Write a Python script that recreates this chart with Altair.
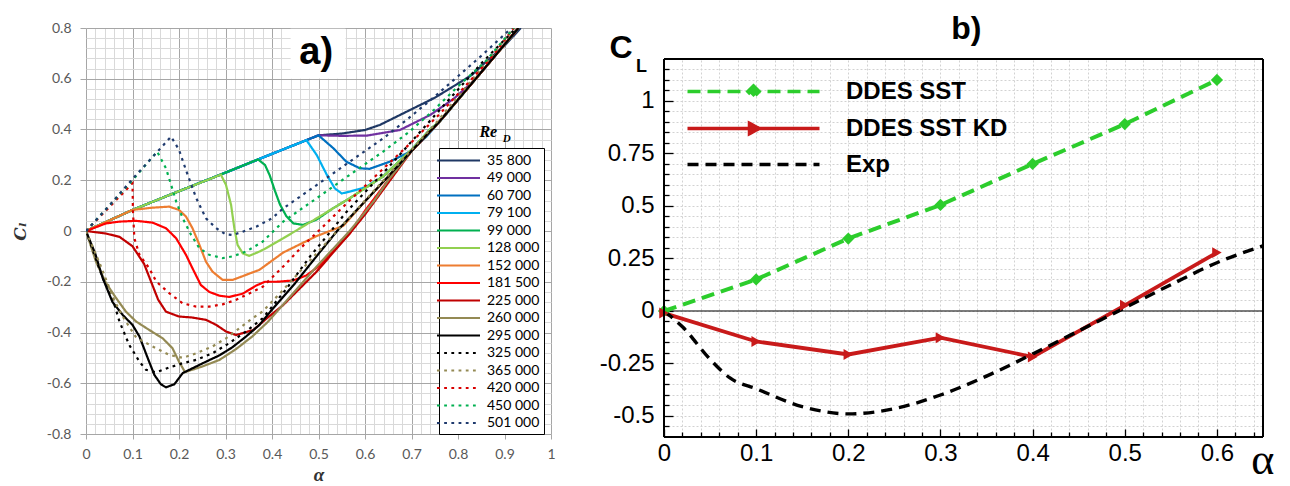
import altair as alt
import pandas as pd

# ====================== panel a) : c_l vs alpha for several Re_D ======================
re_names = ["35 800", "49 000", "60 700", "79 100", "99 000", "128 000", "152 000",
            "181 500", "225 000", "260 000", "295 000", "325 000", "365 000",
            "420 000", "450 000", "501 000"]
re_colors = ["#1f3864", "#7030a0", "#0070c0", "#00b0f0", "#00b050", "#92d050",
             "#ed7d31", "#ff0000", "#c00000", "#948a54", "#000000", "#000000",
             "#948a54", "#d80000", "#00b050", "#1f3a6e"]
re_dashes = [[1, 0]] * 11 + [[2.8, 4.4]] * 5
re_widths = [2.2] * 11 + [2.9] * 5

alpha_35800 = [0, 0.1, 0.2, 0.3, 0.4, 0.5, 0.55, 0.6, 0.632, 0.697, 0.75, 0.783, 0.83, 0.862, 0.9, 0.935]
cl_35800 = [0, 0.083, 0.157, 0.23, 0.304, 0.377, 0.384, 0.398, 0.418, 0.477, 0.525, 0.562, 0.615, 0.67, 0.73, 0.8]

alpha_49000 = [0, 0.1, 0.2, 0.3, 0.4, 0.5, 0.55, 0.604, 0.675, 0.74, 0.79, 0.836, 0.93]
cl_49000 = [0, 0.083, 0.157, 0.23, 0.304, 0.377, 0.375, 0.376, 0.398, 0.457, 0.52, 0.595, 0.8]

alpha_60700 = [0, 0.1, 0.2, 0.3, 0.4, 0.5, 0.532, 0.56, 0.589, 0.61, 0.653, 0.697, 0.732, 0.77, 0.8, 0.833, 0.93]
cl_60700 = [0, 0.083, 0.157, 0.23, 0.304, 0.377, 0.326, 0.273, 0.247, 0.245, 0.273, 0.313, 0.372, 0.45, 0.516, 0.589, 0.8]

alpha_79100 = [0, 0.1, 0.2, 0.3, 0.4, 0.474, 0.496, 0.518, 0.535, 0.55, 0.567, 0.6, 0.639, 0.7, 0.74, 0.76, 0.833, 0.93]
cl_79100 = [0, 0.083, 0.157, 0.23, 0.304, 0.358, 0.3, 0.221, 0.168, 0.148, 0.155, 0.172, 0.215, 0.32, 0.4, 0.431, 0.589, 0.8]

alpha_99000 = [0, 0.1, 0.2, 0.3, 0.37, 0.385, 0.395, 0.406, 0.417, 0.431, 0.446, 0.467, 0.496, 0.53, 0.567, 0.639, 0.7, 0.74, 0.76, 0.833, 0.93]
cl_99000 = [0, 0.083, 0.157, 0.23, 0.282, 0.26, 0.22, 0.16, 0.105, 0.058, 0.03, 0.024, 0.045, 0.088, 0.129, 0.215, 0.32, 0.4, 0.431, 0.589, 0.8]

alpha_128000 = [0, 0.1, 0.2, 0.29, 0.301, 0.312, 0.319, 0.326, 0.337, 0.351, 0.373, 0.387, 0.424, 0.496, 0.567, 0.639, 0.7, 0.74, 0.76, 0.833, 0.93]
cl_128000 = [0, 0.083, 0.157, 0.222, 0.182, 0.103, 0.011, -0.055, -0.088, -0.098, -0.081, -0.068, -0.029, 0.05, 0.129, 0.215, 0.32, 0.4, 0.431, 0.589, 0.8]

alpha_152000 = [0, 0.1, 0.143, 0.179, 0.2, 0.215, 0.229, 0.244, 0.258, 0.272, 0.294, 0.315, 0.344, 0.373, 0.424, 0.496, 0.553, 0.6, 0.65, 0.7, 0.76, 0.833, 0.93]
cl_152000 = [0, 0.083, 0.092, 0.096, 0.083, 0.057, 0.011, -0.055, -0.121, -0.16, -0.193, -0.193, -0.173, -0.153, -0.085, -0.02, 0.02, 0.117, 0.215, 0.315, 0.431, 0.589, 0.8]

alpha_181500 = [0, 0.043, 0.072, 0.108, 0.143, 0.172, 0.194, 0.215, 0.229, 0.247, 0.265, 0.287, 0.308, 0.337, 0.366, 0.385, 0.41, 0.446, 0.474, 0.5, 0.538, 0.567, 0.6, 0.65, 0.7, 0.76, 0.833, 0.93]
cl_181500 = [0, 0.03, 0.037, 0.04, 0.033, 0.011, -0.029, -0.094, -0.147, -0.213, -0.24, -0.255, -0.26, -0.247, -0.215, -0.2, -0.2, -0.195, -0.175, -0.14, -0.068, -0.01, 0.08, 0.2, 0.315, 0.431, 0.589, 0.8]

alpha_225000 = [0, 0.043, 0.072, 0.1, 0.125, 0.14, 0.155, 0.172, 0.2, 0.229, 0.258, 0.28, 0.301, 0.323, 0.36, 0.389, 0.424, 0.496, 0.567, 0.6, 0.65, 0.7, 0.76, 0.833, 0.93]
cl_225000 = [0, -0.01, -0.023, -0.06, -0.13, -0.2, -0.27, -0.318, -0.337, -0.341, -0.35, -0.37, -0.396, -0.41, -0.39, -0.344, -0.292, -0.16, -0.01, 0.065, 0.19, 0.315, 0.431, 0.589, 0.8]

alpha_260000 = [0, 0.0215, 0.043, 0.065, 0.086, 0.108, 0.136, 0.165, 0.186, 0.2, 0.213, 0.25, 0.287, 0.323, 0.358, 0.39, 0.424, 0.496, 0.567, 0.62, 0.65, 0.7, 0.76, 0.833, 0.93]
cl_260000 = [0, -0.121, -0.205, -0.265, -0.318, -0.357, -0.39, -0.423, -0.462, -0.515, -0.556, -0.534, -0.508, -0.465, -0.415, -0.36, -0.29, -0.14, 0.0, 0.12, 0.2, 0.315, 0.431, 0.589, 0.8]

alpha_295000 = [0, 0.02, 0.036, 0.057, 0.079, 0.1, 0.115, 0.133, 0.147, 0.161, 0.172, 0.19, 0.208, 0.229, 0.258, 0.287, 0.315, 0.344, 0.373, 0.4, 0.45, 0.5, 0.54, 0.6, 0.65, 0.7, 0.76, 0.833, 0.93]
cl_295000 = [0, -0.09, -0.186, -0.28, -0.331, -0.37, -0.416, -0.502, -0.567, -0.604, -0.616, -0.604, -0.56, -0.541, -0.515, -0.49, -0.458, -0.416, -0.37, -0.31, -0.205, -0.09, 0.0, 0.117, 0.215, 0.315, 0.431, 0.589, 0.8]

alpha_325000 = [0, 0.036, 0.057, 0.072, 0.093, 0.115, 0.129, 0.151, 0.179, 0.208, 0.237, 0.272, 0.308, 0.344, 0.38, 0.43, 0.482, 0.518, 0.561, 0.65, 0.75, 0.85, 0.925]
cl_325000 = [0, -0.186, -0.265, -0.357, -0.449, -0.515, -0.547, -0.557, -0.538, -0.521, -0.508, -0.482, -0.442, -0.396, -0.344, -0.23, -0.1, -0.02, 0.077, 0.25, 0.455, 0.66, 0.8]

alpha_365000 = [0, 0.03, 0.06, 0.08, 0.108, 0.143, 0.179, 0.208, 0.237, 0.272, 0.301, 0.33, 0.358, 0.38, 0.42, 0.46, 0.5, 0.55, 0.6, 0.65, 0.7, 0.75, 0.8, 0.85, 0.92]
cl_365000 = [0, -0.13, -0.27, -0.34, -0.42, -0.455, -0.488, -0.5, -0.482, -0.455, -0.423, -0.383, -0.344, -0.317, -0.24, -0.16, -0.08, 0.02, 0.12, 0.22, 0.32, 0.42, 0.53, 0.64, 0.8]

alpha_420000 = [0, 0.05, 0.1, 0.101, 0.104, 0.115, 0.136, 0.151, 0.179, 0.208, 0.237, 0.265, 0.294, 0.323, 0.358, 0.38, 0.424, 0.46, 0.5, 0.567, 0.639, 0.7, 0.76, 0.82, 0.87, 0.92]
cl_420000 = [0, 0.094, 0.188, 0.077, -0.029, -0.094, -0.147, -0.199, -0.245, -0.285, -0.298, -0.298, -0.289, -0.271, -0.24, -0.22, -0.14, -0.07, 0.0, 0.12, 0.245, 0.35, 0.46, 0.58, 0.68, 0.8]

alpha_450000 = [0, 0.1, 0.153, 0.172, 0.183, 0.194, 0.208, 0.226, 0.244, 0.265, 0.294, 0.315, 0.344, 0.38, 0.424, 0.496, 0.567, 0.639, 0.696, 0.75, 0.8, 0.86, 0.92]
cl_450000 = [0, 0.2, 0.313, 0.247, 0.182, 0.116, 0.05, -0.015, -0.068, -0.094, -0.107, -0.1, -0.081, -0.042, 0.037, 0.129, 0.221, 0.313, 0.392, 0.48, 0.57, 0.67, 0.8]

alpha_501000 = [0, 0.05, 0.1, 0.15, 0.183, 0.2, 0.215, 0.237, 0.258, 0.28, 0.3, 0.315, 0.337, 0.366, 0.4, 0.424, 0.496, 0.567, 0.639, 0.689, 0.75, 0.8, 0.85, 0.915]
cl_501000 = [0, 0.1, 0.205, 0.305, 0.372, 0.32, 0.24, 0.13, 0.05, 0.011, -0.013, -0.016, -0.003, 0.017, 0.05, 0.089, 0.181, 0.273, 0.365, 0.437, 0.53, 0.61, 0.69, 0.8]

series_a = [
    ("35 800", alpha_35800, cl_35800), ("49 000", alpha_49000, cl_49000),
    ("60 700", alpha_60700, cl_60700), ("79 100", alpha_79100, cl_79100),
    ("99 000", alpha_99000, cl_99000), ("128 000", alpha_128000, cl_128000),
    ("152 000", alpha_152000, cl_152000), ("181 500", alpha_181500, cl_181500),
    ("225 000", alpha_225000, cl_225000), ("260 000", alpha_260000, cl_260000),
    ("295 000", alpha_295000, cl_295000), ("325 000", alpha_325000, cl_325000),
    ("365 000", alpha_365000, cl_365000), ("420 000", alpha_420000, cl_420000),
    ("450 000", alpha_450000, cl_450000), ("501 000", alpha_501000, cl_501000),
]

# axis tick values (grid) for panel a
x_ticks_a = [round(i * 0.02, 2) for i in range(51)]
y_ticks_a = [round(-0.8 + i * 0.04, 2) for i in range(41)]

# ====================== panel b) : C_L vs alpha ======================
b_names = ["DDES SST", "DDES SST KD", "Exp"]
b_colors = ["#2ccd2c", "#c81a1a", "#000000"]
b_dashes = [[13, 7], [1, 0], [11, 7]]
b_shapes = ["M-5,0H5M0,-0.42L0.42,0L0,0.42L-0.42,0Z",
            "M-5,0H5M-0.3,-0.38L0.42,0L-0.3,0.38Z",
            "M-5,0H5"]

b_alpha = [0, 0.1, 0.2, 0.3, 0.4, 0.5, 0.6]
b_sst = [0, 0.15, 0.345, 0.505, 0.70, 0.89, 1.10]
b_kd = [-0.01, -0.145, -0.207, -0.127, -0.219, 0.027, 0.278]
exp_alpha = [0, 0.02, 0.05, 0.072, 0.1, 0.15, 0.2, 0.25, 0.3, 0.35, 0.4, 0.45, 0.5, 0.55, 0.6, 0.65]
exp_cl = [0, -0.075, -0.23, -0.32, -0.37, -0.455, -0.49, -0.465, -0.4, -0.31, -0.205, -0.095, 0.015, 0.125, 0.23, 0.31]

x_ticks_b = [round(i * 0.02, 2) for i in range(33)]
y_ticks_b = [round(-0.6 + i * 0.05, 2) for i in range(37)]
x_major_b = [0, 0.1, 0.2, 0.3, 0.4, 0.5, 0.6]
y_major_b = [-0.5, -0.25, 0, 0.25, 0.5, 0.75, 1]
x_minor_b = [v for v in x_ticks_b if v not in x_major_b]
y_minor_b = [v for v in y_ticks_b if v not in y_major_b and -0.6 < v < 1.2]

# ---------------------------------------------------------------------------
rows = []
for name, a, c in series_a:
    for i, (x, y) in enumerate(zip(a, c)):
        rows.append({"re": name, "alpha": x, "cl": y, "idx": i})
df_a = pd.DataFrame(rows)

df_sst = pd.DataFrame({"alpha": b_alpha, "cl": b_sst})
df_kd = pd.DataFrame({"alpha": b_alpha, "cl": b_kd})
df_exp = pd.DataFrame({"alpha": exp_alpha, "cl": exp_cl})
df_leg = pd.DataFrame({"model": b_names})
one = pd.DataFrame({"k": [0]})

MINUS = "\u2212"


def major(step):
    return f"abs(datum.value / {step} - round(datum.value / {step})) < 1e-6"


def lab(step, fmt):
    return f"{major(step)} ? replace(format(datum.value, '{fmt}'), '{MINUS}', '-') : ''"


# ---------------------------- panel a -----------------------------------
sx_a = alt.Scale(domain=[0, 1], nice=False, zero=False)
sy_a = alt.Scale(domain=[-0.8, 0.8], nice=False, zero=False)

ax_x_a = alt.Axis(
    orient="bottom", values=x_ticks_a, grid=True,
    gridColor={"condition": {"test": major(0.1), "value": "#a6a6a6"}, "value": "#d9d9d9"},
    gridWidth=1, domain=False, ticks=True, tickSize=5, tickColor="#a6a6a6",
    tickOpacity={"condition": {"test": major(0.1), "value": 1}, "value": 0},
    labelExpr=lab(0.1, ".1~f"), labelFont="Lato", labelFontSize=14, labelColor="#595959",
    labelPadding=8, labelFlush=False, labelOverlap=False,
    title="α", titleFont="Liberation Serif", titleFontStyle="italic", titleFontWeight="bold",
    titleFontSize=19, titleColor="#333333", titlePadding=4,
)
ax_y_a = alt.Axis(
    orient="left", values=y_ticks_a, grid=True,
    gridColor={"condition": {"test": major(0.2), "value": "#a6a6a6"}, "value": "#d9d9d9"},
    gridWidth=1, domain=False, ticks=True, tickSize=6, tickColor="#a6a6a6",
    tickOpacity={"condition": {"test": major(0.2), "value": 1}, "value": 0},
    labelExpr=lab(0.2, ".1~f"), labelFont="Lato", labelFontSize=14, labelColor="#595959",
    labelPadding=9, labelFlush=False, labelOverlap=False,
    title="Cₗ", titleFont="DejaVu Serif", titleFontStyle="italic", titleFontWeight="bold",
    titleFontSize=17, titleColor="#333333", titlePadding=17,
)

leg_a = alt.Legend(
    title=None, orient="none", legendX=353, legendY=120,
    symbolType="M-3,0H3", symbolSize=206, symbolStrokeWidth=2.6,
    symbolOffset=7, labelOffset=20, labelFont="Lato", labelFontSize=14,
    labelFontWeight="normal", labelColor="black", rowPadding=1.5, padding=4,
    strokeColor="black", fillColor="white",
)

lines_a = alt.Chart(df_a).mark_line(clip=True).encode(
    x=alt.X("alpha:Q", scale=sx_a, axis=ax_x_a),
    y=alt.Y("cl:Q", scale=sy_a, axis=ax_y_a),
    color=alt.Color("re:N", scale=alt.Scale(domain=re_names, range=re_colors), legend=leg_a),
    strokeDash=alt.StrokeDash("re:N", scale=alt.Scale(domain=re_names, range=re_dashes), legend=leg_a),
    strokeWidth=alt.StrokeWidth("re:N", scale=alt.Scale(domain=re_names, range=re_widths), legend=None),
    order="idx:Q",
)
box_a = alt.Chart(one).mark_rect(color="white").encode(
    x=alt.XDatum(0.44, scale=sx_a, axis=None), x2=alt.X2Datum(0.558),
    y=alt.YDatum(0.6, scale=sy_a, axis=None), y2=alt.Y2Datum(0.797),
)
label_a = alt.Chart(one).mark_text(text="a)", font="Liberation Sans", fontSize=38,
                                   fontWeight="bold", align="center", baseline="middle").encode(
    x=alt.XDatum(0.495, scale=sx_a, axis=None), y=alt.YDatum(0.70, scale=sy_a, axis=None))
re_txt = alt.Chart(one).mark_text(text="Re", font="Liberation Serif", fontSize=16, fontStyle="italic",
                                  fontWeight="bold", align="left", baseline="middle").encode(
    x=alt.XDatum(0.846, scale=sx_a, axis=None), y=alt.YDatum(0.389, scale=sy_a, axis=None))
d_txt = alt.Chart(one).mark_text(text="D", font="Liberation Serif", fontSize=11, fontStyle="italic",
                                 fontWeight="bold", align="left", baseline="middle").encode(
    x=alt.XDatum(0.896, scale=sx_a, axis=None), y=alt.YDatum(0.361, scale=sy_a, axis=None))

left = alt.layer(lines_a, box_a, label_a, re_txt, d_txt).resolve_axis(
    x="independent", y="independent").properties(width=465, height=406)

# ---------------------------- panel b -----------------------------------
Y_TOP = 1.3476
sx_b = alt.Scale(domain=[0, 0.65], nice=False, zero=False)
sy_b = alt.Scale(domain=[-0.6, Y_TOP], nice=False, zero=False)

ax_x_b = alt.Axis(
    orient="bottom", values=x_ticks_b, grid=True, gridColor="#d2d2d2", gridDash=[2, 2], gridWidth=1,
    ticks=False, tickSize=0, domain=False, labelExpr=lab(0.1, ".1~f"),
    labelFont="Liberation Sans", labelFontSize=24, labelColor="black", labelPadding=4,
    labelFlush=False, labelOverlap=False, title=None,
)
ax_y_b = alt.Axis(
    orient="left", values=y_ticks_b, grid=True, gridColor="#d2d2d2", gridDash=[2, 2], gridWidth=1,
    ticks=False, tickSize=0, domain=False, labelExpr=lab(0.25, ".2~f"),
    labelFont="Liberation Sans", labelFontSize=24, labelColor="black", labelPadding=10,
    labelFlush=False, labelOverlap=False, title=None,
)


def tick_axis(orient, vals, size):
    return alt.Axis(orient=orient, values=vals, grid=False, labels=False, domain=False,
                    ticks=True, tickSize=size, offset=-size, tickColor="black", tickWidth=1.3,
                    title=None)


zero_b = alt.Chart(one).mark_rule(color="black", strokeWidth=1).encode(
    x=alt.XDatum(0, scale=sx_b, axis=ax_x_b), x2=alt.X2Datum(0.65),
    y=alt.YDatum(0, scale=sy_b, axis=ax_y_b),
)
cover_b = alt.Chart(one).mark_rect(color="white").encode(
    x=alt.XDatum(0, scale=sx_b, axis=None), x2=alt.X2Datum(0.65),
    y=alt.YDatum(1.2, scale=sy_b, axis=None), y2=alt.Y2Datum(Y_TOP),
)
line_sst = alt.Chart(df_sst).mark_line(color=b_colors[0], strokeWidth=4, strokeDash=b_dashes[0]).encode(
    x=alt.X("alpha:Q", scale=sx_b, axis=None), y=alt.Y("cl:Q", scale=sy_b, axis=None))
line_kd = alt.Chart(df_kd).mark_line(color=b_colors[1], strokeWidth=3.8).encode(
    x=alt.X("alpha:Q", scale=sx_b, axis=None), y=alt.Y("cl:Q", scale=sy_b, axis=None))
line_exp = alt.Chart(df_exp).mark_line(color=b_colors[2], strokeWidth=3.4, strokeDash=b_dashes[2],
                                       interpolate="monotone").encode(
    x=alt.X("alpha:Q", scale=sx_b, axis=None), y=alt.Y("cl:Q", scale=sy_b, axis=None))
pts_sst = alt.Chart(df_sst).mark_point(shape="diamond", filled=True, size=150, opacity=1,
                                       color=b_colors[0]).encode(
    x=alt.X("alpha:Q", scale=sx_b, axis=None), y=alt.Y("cl:Q", scale=sy_b, axis=None))
pts_kd = alt.Chart(df_kd).mark_point(shape="triangle-right", filled=True, size=120, opacity=1,
                                     color=b_colors[1]).encode(
    x=alt.X("alpha:Q", scale=sx_b, axis=None), y=alt.Y("cl:Q", scale=sy_b, axis=None))

leg_b = alt.Legend(
    title=None, orient="none", legendX=26, legendY=48,
    symbolSize=697, symbolStrokeWidth=3.6, symbolOffset=48, labelOffset=77, labelLimit=400,
    labelFont="Liberation Sans", labelFontSize=24, labelFontWeight="bold", labelColor="black",
    rowPadding=8, padding=0,
)
legend_b = alt.Chart(df_leg).mark_point(filled=True, opacity=1, strokeWidth=3.6).encode(
    fill=alt.Fill("model:N", scale=alt.Scale(domain=b_names, range=b_colors), legend=leg_b),
    stroke=alt.Stroke("model:N", scale=alt.Scale(domain=b_names, range=b_colors), legend=leg_b),
    shape=alt.Shape("model:N", scale=alt.Scale(domain=b_names, range=b_shapes), legend=leg_b),
    strokeDash=alt.StrokeDash("model:N", scale=alt.Scale(domain=b_names, range=b_dashes), legend=leg_b),
).transform_filter("false")

frame_bottom = alt.Chart(one).mark_rule(color="black", strokeWidth=2).encode(
    x=alt.XDatum(0, scale=sx_b, axis=tick_axis("bottom", x_major_b, 8)), x2=alt.X2Datum(0.65),
    y=alt.YDatum(-0.6, scale=sy_b, axis=tick_axis("left", y_major_b, 9)))
frame_top = alt.Chart(one).mark_rule(color="black", strokeWidth=2).encode(
    x=alt.XDatum(0, scale=sx_b, axis=tick_axis("bottom", x_minor_b, 5)), x2=alt.X2Datum(0.65),
    y=alt.YDatum(1.2, scale=sy_b, axis=tick_axis("left", y_minor_b, 5)))
frame_left = alt.Chart(one).mark_rule(color="black", strokeWidth=2).encode(
    x=alt.XDatum(0, scale=sx_b, axis=None),
    y=alt.YDatum(-0.6, scale=sy_b, axis=None), y2=alt.Y2Datum(1.2))
frame_right = alt.Chart(one).mark_rule(color="black", strokeWidth=2).encode(
    x=alt.XDatum(0.65, scale=sx_b, axis=None),
    y=alt.YDatum(-0.6, scale=sy_b, axis=None), y2=alt.Y2Datum(1.2))


def txt_b(text, x, y, size, weight="bold", font="Liberation Sans", baseline="middle"):
    return alt.Chart(one).mark_text(text=text, font=font, fontSize=size, fontWeight=weight,
                                    align="center", baseline=baseline, color="black").encode(
        x=alt.XDatum(x, scale=sx_b, axis=None), y=alt.YDatum(y, scale=sy_b, axis=None))


title_b = txt_b("b)", 0.328, 1.345, 32)
c_txt = txt_b("C", -0.0467, 1.254, 32)
l_txt = txt_b("L", -0.0245, 1.160, 18)
alpha_txt = txt_b("α", 0.6497, -0.776, 44, weight="normal", font="Liberation Serif", baseline="alphabetic")

right = alt.layer(
    zero_b, cover_b, line_sst, line_kd, line_exp, pts_sst, pts_kd, legend_b,
    frame_bottom, frame_top, frame_left, frame_right, title_b, c_txt, l_txt, alpha_txt,
).resolve_axis(x="independent", y="independent").properties(width=599, height=409)

chart = alt.hconcat(left, right, spacing=113, bounds="flush").resolve_scale(
    color="independent", strokeDash="independent", fill="independent",
    stroke="independent", shape="independent", strokeWidth="independent",
).resolve_legend(
    color="independent", strokeDash="independent", fill="independent",
    stroke="independent", shape="independent",
).configure_view(
    stroke=None
).properties(padding={"left": 3, "top": 4, "right": 5, "bottom": 5})

chart.save("out.html", embed_options={"renderer": "svg", "actions": False})
